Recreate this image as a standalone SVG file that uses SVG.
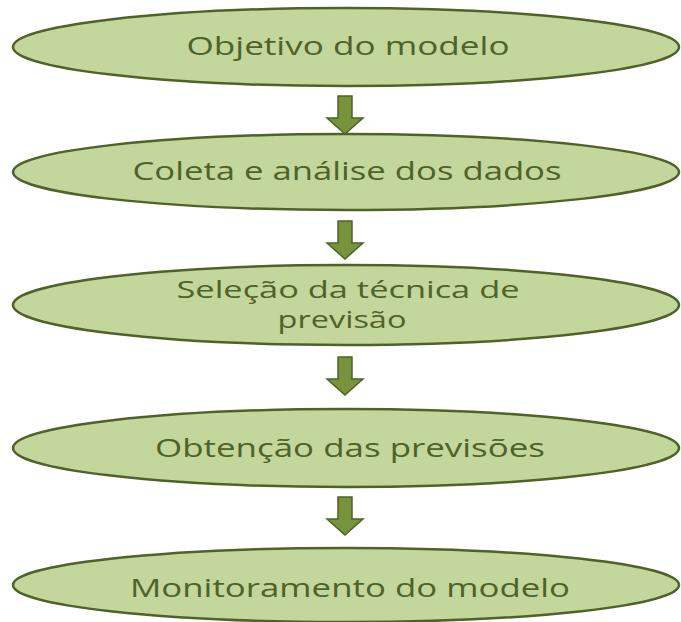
<svg xmlns="http://www.w3.org/2000/svg" width="681" height="622" viewBox="0 0 681 622">
<style>
.node ellipse{fill:#c3d69b;stroke:#4f6228;stroke-width:2.5}
.node text{font-family:"Open Sans","Noto Sans",sans-serif;font-size:25px;fill:#4f6228;text-anchor:middle}
.node text.sm{font-size:24px}
.arrow{fill:#77933c;stroke:#4f6228;stroke-width:1.5}
</style>
<rect width="681" height="622" fill="#ffffff"/>
<g id="n1" class="node"><ellipse cx="346" cy="47" rx="333" ry="39"/><text x="348" y="55" textLength="323" lengthAdjust="spacingAndGlyphs">Objetivo do modelo</text></g>
<g id="n2" class="node"><ellipse cx="346" cy="172" rx="333" ry="38"/><text x="347" y="180" textLength="429" lengthAdjust="spacingAndGlyphs">Coleta e análise dos dados</text></g>
<g id="n3" class="node"><ellipse cx="346" cy="305" rx="333" ry="40"/><text class="sm" x="348" y="298" textLength="343" lengthAdjust="spacingAndGlyphs">Seleção da técnica de</text><text class="sm" x="342" y="328" textLength="129" lengthAdjust="spacingAndGlyphs">previsão</text></g>
<g id="n4" class="node"><ellipse cx="346" cy="448" rx="333" ry="39"/><text x="350" y="457" textLength="390" lengthAdjust="spacingAndGlyphs">Obtenção das previsões</text></g>
<g id="n5" class="node"><ellipse cx="346" cy="585" rx="333" ry="37"/><text x="350" y="597" textLength="440" lengthAdjust="spacingAndGlyphs">Monitoramento do modelo</text></g>
<g id="connectors">
<path class="arrow" d="M338 96 H352 V118 H363 L345 134 L327 118 H338 Z"/>
<path class="arrow" d="M338 221 H352 V243 H363 L345 259 L327 243 H338 Z"/>
<path class="arrow" d="M338 357 H352 V379 H363 L345 395 L327 379 H338 Z"/>
<path class="arrow" d="M338 497 H352 V519 H363 L345 535 L327 519 H338 Z"/>
</g>
</svg>
